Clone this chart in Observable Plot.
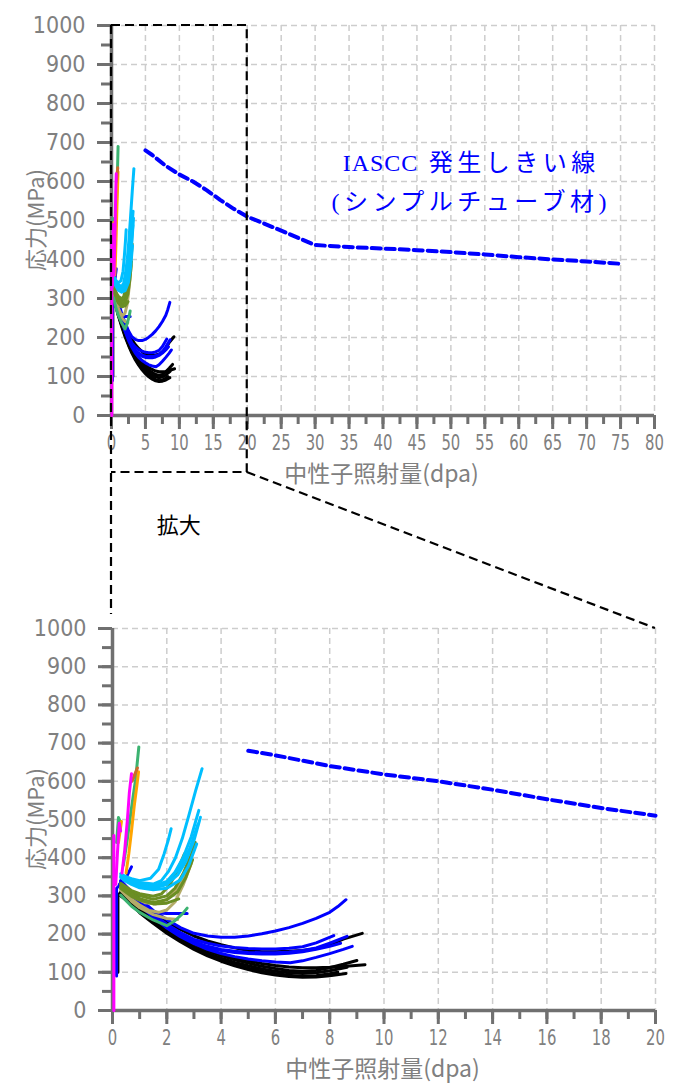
<!DOCTYPE html>
<html><head><meta charset="utf-8">
<script src="https://cdn.jsdelivr.net/npm/d3@7"></script>
<script src="https://cdn.jsdelivr.net/npm/@observablehq/plot@0.6"></script>
<style>
body{margin:0;background:#fff;}
#wrap{position:relative;width:673px;height:1083px;background:#fff;overflow:hidden;}
#wrap > svg{position:absolute;left:0;}
g[aria-label="x-axis tick"], g[aria-label="y-axis tick"]{stroke:#707070;stroke-width:3px;}
g[aria-label="x-axis tick label"], g[aria-label="y-axis tick label"]{fill:#808080;font-family:"Liberation Sans Narrow","DejaVu Sans Condensed",sans-serif;}
g[aria-label="x-axis tick label"]{font-size:22px;}
g[aria-label="y-axis tick label"]{font-size:23px;}
</style></head><body><div id="wrap"></div>
<script>
// ---------------- data ----------------
const yTicksMajor = [0,100,200,300,400,500,600,700,800,900,1000];
const yTicksMinor = [0,50,100,150,200,250,300,350,400,450,500,550,600,650,700,750,800,850,900,950,1000];
const xTicksTopMajor = [0,5,10,15,20,25,30,35,40,45,50,55,60,65,70,75,80];
const xTicksTopMinor = [0,2.5,5,7.5,10,12.5,15,17.5,20,22.5,25,27.5,30,32.5,35,37.5,40,42.5,45,47.5,50,52.5,55,57.5,60,62.5,65,67.5,70,72.5,75,77.5,80];
const xTicksBottomMajor = [0,2,4,6,8,10,12,14,16,18,20];
const xTicksBottomMinor = [0,1,2,3,4,5,6,7,8,9,10,11,12,13,14,15,16,17,18,19,20];

// IASCC threshold line (dpa, MPa)
const thresholdDpa = [5,6,8,10,12,14,16,18,20,25,30,35,40,45,50,55,60,65,70,75];
const thresholdMPa = [680,668,640,618,600,578,553,530,510,474,437,432,428,424,419,413,406,400,395,389];

const blackCurves = [
 [[0.2,100],[0.2,300],[0.3,310],[0.6,297],[1,275],[1.5,252],[2,232],[2.5,212],[3,195],[3.5,182],[4,172],[4.5,164],[5,157],[5.5,154],[6,154],[6.5,155],[7,157],[7.5,162],[8,172],[8.5,187],[9.2,202]],
 [[0.3,306],[0.6,292],[1,266],[1.5,240],[2,215],[2.5,194],[3,176],[3.5,161],[4,148],[4.5,138],[5,130],[5.5,123],[6,118],[6.5,114],[7,112],[7.5,112],[8,113],[8.6,116],[9.3,120]],
 [[0.3,304],[0.6,290],[1,263],[1.5,237],[2,212],[2.5,191],[3,173],[3.5,157],[4,144],[4.5,133],[5,124],[5.5,116],[6,110],[6.5,105],[7,103],[7.5,105],[8,112],[8.5,121],[9.0,131]],
 [[0.3,302],[0.6,287],[1,260],[1.5,233],[2,207],[2.5,185],[3,166],[3.5,150],[4,137],[4.5,126],[5,117],[5.5,109],[6,103],[6.5,99],[7,97],[7.5,99],[8,104],[8.64,113]],
 [[0.3,300],[0.6,284],[1,256],[1.5,228],[2,202],[2.5,180],[3,160],[3.5,143],[4,129],[4.5,117],[5,107],[5.5,99],[6,93],[6.5,89],[7,87],[7.5,88],[8,91],[8.6,97]],
 [[0.3,301],[0.6,285],[1,258],[1.5,231],[2,205],[2.5,183],[3,163],[3.5,147],[4,133],[4.5,121],[5,111],[5.5,103],[6,97],[6.5,92],[7,89],[7.5,91],[8,96],[8.3,100]]
];
const blueCurves = [
 [[0.3,340],[0.6,318],[1,292],[1.5,262],[2,238],[2.5,217],[3,202],[3.5,195],[4,192],[4.5,192],[5,195],[5.5,201],[6,208],[6.5,217],[7,228],[7.5,241],[8,257],[8.3,272],[8.6,290]],
 [[0.3,336],[0.6,312],[1,284],[1.5,253],[2,226],[2.5,204],[3,186],[3.5,176],[4,169],[4.5,165],[5,162],[5.5,161],[6,161],[6.5,163],[7,167],[7.5,177],[8.15,196]],
 [[0.3,334],[0.6,309],[1,280],[1.5,248],[2,221],[2.5,198],[3,180],[3.5,168],[4,160],[4.5,155],[5,152],[5.5,151],[6,151],[6.5,153],[7,157],[7.5,164],[8,176],[8.64,194]],
 [[0.3,332],[0.6,306],[1,276],[1.5,244],[2,216],[2.5,193],[3,175],[3.5,160],[4,149],[4.5,141],[5,135],[5.5,130],[6,127],[6.55,125],[7,130],[7.5,139],[8,149],[8.5,160],[8.83,168]],
 [[0.3,333],[0.6,308],[1,278],[1.5,246],[2,218],[2.5,196],[3,178],[3.5,165],[4,157],[4.5,152],[5,149],[5.5,148],[6,148],[6.5,150],[7,154],[7.5,160],[8,168],[8.4,176]],
 [[0.15,90],[0.15,320],[0.3,330],[0.6,305],[1,280],[1.3,257],[2,254],[2.75,254]],
 [[0.25,330],[0.4,340],[0.55,355],[0.7,376]]
];
const khakiCurves = [
 [[0.3,318],[0.7,291],[1,276],[1.34,262],[1.7,257],[2,263],[2.3,284],[2.6,328],[2.9,385]],
 [[0.3,315],[0.7,286],[1,269],[1.5,251],[2,241],[2.4,238]],
 [[0.3,322],[0.8,296],[1.2,282],[1.6,279],[2,291],[2.4,320],[2.7,360]]
];
const oliveCurves = [
 [[0.3,330],[0.7,311],[1,301],[1.5,291],[2,300],[2.3,320],[2.6,358],[2.9,408],[3.05,440]],
 [[0.3,325],[0.7,305],[1,293],[1.5,283],[2,290],[2.4,311],[2.7,348],[2.95,395]],
 [[0.3,320],[0.7,299],[1,289],[1.5,279],[2,281],[2.44,292]],
 [[0.3,333],[0.7,314],[1,306],[1.5,299],[1.8,305],[2.1,328],[2.4,368],[2.65,410]]
];
const cyanCurves = [
 [[0.3,358],[0.6,346],[1,335],[1.5,331],[1.8,340],[2.07,365],[2.32,400],[2.57,450],[2.81,510],[3.06,575],[3.3,633]],
 [[0.3,352],[0.6,340],[1,329],[1.5,325],[2,338],[2.3,362],[2.6,400],[2.9,455],[3.18,524]],
 [[0.3,348],[0.6,336],[1,325],[1.5,320],[2,330],[2.4,355],[2.7,390],[3.0,445],[3.24,506]],
 [[0.4,352],[0.7,345],[1,340],[1.4,346],[1.7,370],[1.9,410],[2.05,445],[2.16,476]],
 [[0.4,342],[0.7,330],[1,321],[1.5,316],[2,320],[2.5,342],[2.8,378],[3.1,436]],
 [[0.4,346],[0.7,334],[1,324],[1.5,322],[2,336],[2.5,376],[2.85,425],[3.15,488]]
];
const greenCurves = [
 [[0.3,302],[0.7,273],[1,257],[1.5,237],[2,222],[2.3,235],[2.6,255],[2.75,268]],
 [[0.4,380],[0.55,450],[0.7,530],[0.85,605],[0.97,690]],
 [[0.15,440],[0.22,505],[0.3,492]]
];
const orangeCurves = [
 [[0.5,360],[0.6,410],[0.7,470],[0.8,535],[0.9,590],[0.96,625]],
 [[0.22,440],[0.28,470],[0.33,495]]
];
const brownCurves = [
 [[0.72,600],[0.82,618],[0.92,635]]
];
const magentaCurves = [
 [[0.05,0],[0.05,458]],
 [[0.12,330],[0.18,410],[0.25,490],[0.3,470]],
 [[0.35,360],[0.45,420],[0.55,500],[0.62,570],[0.7,620]]
];

const annotationLatin = "IASCC";
const annotationLine1 = " 発生しきい線";
const annotationLine2 = "(シンプルチューブ材)";
const annotationDpa = 53, annotationMPa = 608;

// ---------------- build ----------------
const W = 673;
const axisGray = "#707070";
const groups = [
  ["black", blackCurves, "#000000"],
  ["blue", blueCurves, "#0000ff"],
  ["khaki", khakiCurves, "#b3ab68"],
  ["olive", oliveCurves, "#6b8e23"],
  ["cyan", cyanCurves, "#00bfff"],
  ["green", greenCurves, "#3cb371"],
  ["orange", orangeCurves, "#ffa500"],
  ["brown", brownCurves, "#cd6a2a"],
  ["magenta", magentaCurves, "#ff00ff"]
];
function toRows(curves, name) {
  const out = [];
  curves.forEach((c, i) => c.forEach(([x, y]) => out.push({x, y, id: name + i})));
  return out;
}
const thrRows = thresholdDpa.map((x, i) => ({x, y: thresholdMPa[i]}));
const gridOpts = {stroke: "#cdcdcd", strokeOpacity: 1, strokeWidth: 1.5, strokeDasharray: "6,4"};
const plain = d => String(d);

function chart(o) {
  return Plot.plot({
    width: W, height: o.height,
    marginLeft: o.ml, marginRight: o.mr, marginTop: o.mt, marginBottom: o.mb,
    x: {domain: [0, o.xMax]},
    y: {domain: [0, 1000]},
    style: {background: "transparent"},
    marks: [
      Plot.gridX(o.xMajor.filter(v => v > 0), gridOpts),
      Plot.gridY(yTicksMajor.filter(v => v > 0), gridOpts),
      Plot.ruleY([0], {stroke: axisGray, strokeWidth: 3.5}),
      Plot.ruleX([0], {stroke: axisGray, strokeWidth: 3.5}),
      Plot.axisX(o.xMinor, {tickSize: 9, tickFormat: () => "", label: null, stroke: axisGray, strokeWidth: 3}),
      Plot.axisX(o.xMajor, {tickSize: 14, tickPadding: 5, tickFormat: plain, label: null, stroke: axisGray, strokeWidth: 3, fill: "#808080"}),
      Plot.axisY(yTicksMinor, {tickSize: 10, tickFormat: () => "", label: null, stroke: axisGray, strokeWidth: 3}),
      Plot.axisY(yTicksMajor, {tickSize: 14, tickPadding: 12, tickFormat: plain, label: null, stroke: axisGray, strokeWidth: 3, fill: "#808080"}),
      ...groups.map(([name, curves, color]) =>
        Plot.line(toRows(curves, name), {x: "x", y: "y", z: "id", stroke: color, strokeWidth: 3, strokeLinejoin: "round"})),
      Plot.line(thrRows.filter(d => d.x <= o.xMax), {x: "x", y: "y", stroke: "#0000ff", strokeWidth: 4, strokeDasharray: "9,5"}),
      ...(o.extra || [])
    ]
  });
}

function squeeze(svg, sel, k) {
  svg.querySelectorAll(sel).forEach(t => {
    let tr = t.getAttribute("transform") || "";
    const x = t.getAttribute("x");
    if (x !== null && !isNaN(+x)) { tr += ` translate(${x},0)`; t.removeAttribute("x"); }
    t.setAttribute("transform", `${tr} scale(${k},1)`);
  });
}

const wrap = document.getElementById("wrap");
const topOffset = 0, bottomOffset = 600;

const topChart = chart({
  height: 490, ml: 111, mr: 19, mt: 25, mb: 75, xMax: 80,
  xMajor: xTicksTopMajor, xMinor: xTicksTopMinor,
  extra: [
    Plot.text([{x: annotationDpa, y: annotationMPa}], {
      x: "x", y: "y", text: () => annotationLatin + annotationLine1 + "\n" + annotationLine2,
      fill: "#0000ff", fontSize: 24,
      fontFamily: "'Liberation Serif','DejaVu Serif','Noto Sans CJK JP',serif", lineHeight: 1.6
    })
  ]
});
topChart.style.top = topOffset + "px";
wrap.appendChild(topChart);
squeeze(topChart, 'g[aria-label="x-axis tick label"] text', 0.75);
// letter-spacing on the Japanese part only
topChart.querySelectorAll('g[aria-label="text"] text').forEach(t => {
  t.style.letterSpacing = "4.5px";
  t.querySelectorAll("tspan").forEach(ts => {
    if (ts.textContent.startsWith(annotationLatin)) {
      ts.textContent = "";
      const lat = document.createElementNS("http://www.w3.org/2000/svg", "tspan");
      lat.style.letterSpacing = "1px";
      lat.textContent = annotationLatin;
      ts.appendChild(lat);
      ts.appendChild(document.createTextNode(annotationLine1));
    }
  });
});

const bottomChart = chart({
  height: 483, ml: 112, mr: 18, mt: 28, mb: 73, xMax: 20,
  xMajor: xTicksBottomMajor, xMinor: xTicksBottomMinor
});
bottomChart.style.top = bottomOffset + "px";
wrap.appendChild(bottomChart);
squeeze(bottomChart, 'g[aria-label="x-axis tick label"] text', 0.75);

// ---------------- overlay: zoom box, connectors, titles ----------------
const xt = topChart.scale("x"), yt = topChart.scale("y");
const xb = bottomChart.scale("x"), yb = bottomChart.scale("y");
const bx0 = xt.apply(0), bx20 = xt.apply(20), byTop = yt.apply(1000) + topOffset;
const byBottom = yt.apply(0) + topOffset + 57;
const tx20 = xb.apply(20), ty1000 = yb.apply(1000) + bottomOffset;

const ov = d3.create("svg").attr("width", W).attr("height", 1083)
  .style("position", "absolute").style("top", "0px").style("left", "0px");
const dash = {stroke: "#000", "stroke-width": 2.2, "stroke-dasharray": "9,5", fill: "none"};
function dpath(d) { const p = ov.append("path").attr("d", d); Object.entries(dash).forEach(([k, v]) => p.attr(k, v)); }
dpath(`M${bx0},${byTop}H${bx20}V${byBottom}H${bx0}`);
dpath(`M${bx0},${byTop}V${ty1000 - 14}`);
dpath(`M${bx20},${byBottom}L${tx20},${ty1000}`);

ov.append("text").attr("x", (bx0 + bx20) / 2).attr("y", 527).attr("text-anchor", "middle")
  .attr("dominant-baseline", "middle").attr("font-family", "'Noto Sans CJK JP',sans-serif")
  .attr("font-size", 22).attr("fill", "#000").text("拡大");

function titles(offset, plot) {
  const xs = plot.scale("x"), ys = plot.scale("y");
  const cx = (xs.range[0] + xs.range[1]) / 2 - 1;
  const cy = (ys.range[0] + ys.range[1]) / 2 + offset;
  ov.append("text").attr("x", cx).attr("y", ys.range[0] + offset + 61)
    .attr("text-anchor", "middle").attr("dominant-baseline", "middle")
    .attr("font-family", "'Noto Sans CJK JP',sans-serif").attr("font-size", 23).attr("fill", "#808080")
    .text("中性子照射量(dpa)");
  ov.append("text").attr("transform", `translate(38,${cy}) rotate(-90)`)
    .attr("text-anchor", "middle").attr("dominant-baseline", "middle")
    .attr("font-family", "'Noto Sans CJK JP',sans-serif").attr("font-size", 22).attr("fill", "#808080")
    .text("応力(MPa)");
}
titles(topOffset, topChart);
titles(bottomOffset, bottomChart);
wrap.appendChild(ov.node());
</script></body></html>
